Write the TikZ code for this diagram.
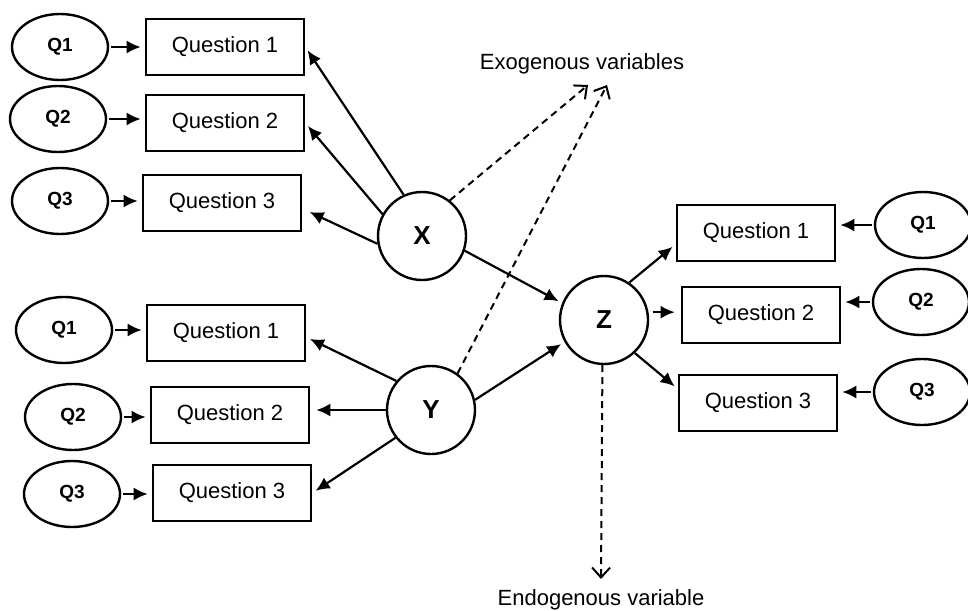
\documentclass[tikz,border=0pt]{standalone}
\usepackage{fontspec}
\setmainfont{Liberation Sans}
\usetikzlibrary{arrows.meta, shapes.geometric, calc, positioning}

\begin{document}
\begin{tikzpicture}[x=0.5pt, y=-0.5pt,
    qbox/.style={draw, line width=1.3pt, minimum width=79pt, minimum height=28pt, font=\fontsize{11}{13}\selectfont},
    qoval/.style={draw, ellipse, line width=1.2pt, minimum width=48pt, minimum height=33pt, inner sep=0pt, font=\bfseries\fontsize{9.5}{11}\selectfont},
    latent/.style={draw, circle, line width=1.2pt, minimum size=44pt, inner sep=0pt, font=\bfseries\fontsize{13}{15}\selectfont},
    link/.style={line width=1.1pt, -{Latex[length=7pt, width=6.5pt]}, shorten >=2pt},
    dlink/.style={line width=1pt, dash pattern=on 3.5pt off 2.5pt, -{Straight Barb[length=5pt, width=9pt, line width=1pt]}},
    lbl/.style={font=\fontsize{11}{13}\selectfont}]

  \useasboundingbox (0,0) rectangle (968,610);

  % latent variables
  \node[latent] (X) at (422,236) {X};
  \node[latent] (Y) at (431,410) {Y};
  \node[latent] (Z) at (604,320) {Z};

  % indicators of X
  \node[qbox] (bxa1) at (225,47) {Question 1};
  \node[qbox] (bxa2) at (225,123) {Question 2};
  \node[qbox] (bxa3) at (222,203) {Question 3};
  \node[qoval] (qa1) at (60,47) {Q1};
  \node[qoval] (qa2) at (58,119) {Q2};
  \node[qoval] (qa3) at (60,201) {Q3};

  % indicators of Y
  \node[qbox] (bxb1) at (226,333) {Question 1};
  \node[qbox] (bxb2) at (230,415) {Question 2};
  \node[qbox] (bxb3) at (232,493) {Question 3};
  \node[qoval] (qb1) at (64,330) {Q1};
  \node[qoval] (qb2) at (73,417) {Q2};
  \node[qoval] (qb3) at (72,494) {Q3};

  % indicators of Z
  \node[qbox] (bxc1) at (756,233) {Question 1};
  \node[qbox] (bxc2) at (761,315) {Question 2};
  \node[qbox] (bxc3) at (758,403) {Question 3};
  \node[qoval] (qc1) at (923,225) {Q1};
  \node[qoval] (qc2) at (921,302) {Q2};
  \node[qoval] (qc3) at (922,392) {Q3};

  % labels
  \node[lbl] (exo) at (582,64) {Exogenous variables};
  \node[lbl, anchor=base] (endo) at (601,605) {Endogenous variable};
  \coordinate (exoa) at (588,85);
  \coordinate (exob) at (607,85);
  \coordinate (endoa) at (601,579);

  % error terms to questions
  \foreach \g/\b in {qa1/bxa1, qa2/bxa2, qa3/bxa3, qb1/bxb1, qb2/bxb2, qb3/bxb3}
    \draw[link, shorten <=1pt] (\g.east) -- (\g.east -| \b.west);
  \foreach \g/\b in {qc1/bxc1, qc2/bxc2, qc3/bxc3}
    \draw[link, shorten <=1pt] (\g.west) -- (\g.west -| \b.east);

  % loadings
  \draw[link] (X.114) -- (bxa1.east);
  \draw[link] (X.151) -- (bxa2.east);
  \draw[link, shorten >=4pt] (X.190) -- (bxa3.-4);
  \draw[link] (Y.140) -- (bxb1.-3);
  \draw[link, shorten >=3pt] (Y.180) -- (Y.180 -| bxb2.east);
  \draw[link] (Y.218) -- (bxb3.east);
  \draw[link] (Z.56) -- (bxc1.188);
  \draw[link, shorten >=3pt, shorten <=2pt] (Z.10) -- (Z.10 -| bxc2.west);
  \draw[link] (Z.-47) -- (bxc3.170);

  % structural paths
  \draw[link] (X.-19) -- (Z.158);
  \draw[link] (Y.13) -- (Z.209);

  % dashed pointers
  \draw[dlink] (X.52) -- (exoa);
  \draw[dlink] (Y.54) -- (exob);
  \draw[dlink] (Z.-92) -- (endoa);
\end{tikzpicture}
\end{document}
